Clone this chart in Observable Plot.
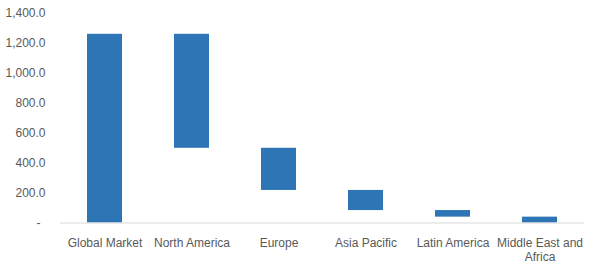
<!DOCTYPE html>
<html>
<head>
<meta charset="utf-8">
<script src="https://cdn.jsdelivr.net/npm/d3@7"></script>
<script src="https://cdn.jsdelivr.net/npm/@observablehq/plot@0.6"></script>
<style>
  html, body { margin: 0; padding: 0; background: #fff; }
  #chart svg { display: block; }
</style>
</head>
<body>
<div id="chart"></div>
<script>
const categories = ["Global Market", "North America", "Europe", "Asia Pacific", "Latin America", "Middle East and Africa"];
const tickLabels = ["Global Market", "North America", "Europe", "Asia Pacific", "Latin America", "Middle East and\nAfrica"];
const barTop = [1258, 1258, 498, 217, 83, 39];
const barBottom = [0, 498, 217, 83, 39, 0];
const yTicks = [200, 400, 600, 800, 1000, 1200, 1400];

const data = categories.map((c, i) => ({category: c, y1: barBottom[i], y2: barTop[i]}));
const labelOf = new Map(categories.map((c, i) => [c, tickLabels[i]]));

const chart = Plot.plot({
  width: 598,
  height: 272,
  marginLeft: 60,
  marginRight: 14,
  marginTop: 12.5,
  marginBottom: 49.5,
  style: {fontFamily: "'Liberation Sans', Arial, sans-serif", fontSize: "12px", color: "#595959", background: "#fff"},
  x: {domain: categories, paddingInner: 0.6, paddingOuter: 0.3, align: 0.5},
  y: {domain: [0, 1400], nice: false},
  marks: [
    Plot.barY(data, {x: "category", y1: "y1", y2: "y2", fill: "#2e75b6"}),
    Plot.ruleY([0], {stroke: "#d9d9d9", strokeWidth: 1}),
    Plot.axisY({ticks: yTicks, tickSize: 0, tickPadding: 15, tickFormat: d3.format(",.1f"), label: null, fill: "#595959", fontSize: 12}),
    Plot.text([0], {y: d => d, frameAnchor: "left", dx: -24, text: () => "-", fill: "#595959", fontSize: 12}),
    Plot.axisX({tickSize: 0, tickPadding: 14, tickFormat: d => labelOf.get(d), label: null, fill: "#595959", fontSize: 12, lineHeight: 1.15})
  ]
});
document.getElementById("chart").appendChild(chart);
</script>
</body>
</html>
